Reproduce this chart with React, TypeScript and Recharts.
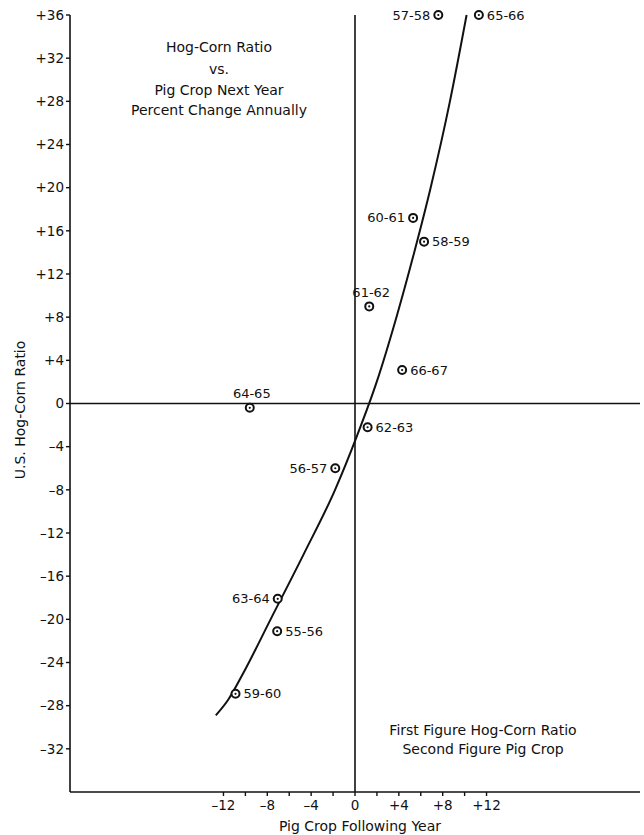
import { ScatterChart, Scatter, XAxis, YAxis, ReferenceLine } from "recharts";

// crop years, first figure hog-corn ratio, second figure pig crop
const cropYears = ["55-56", "56-57", "57-58", "58-59", "59-60", "60-61", "61-62", "62-63", "63-64", "64-65", "65-66", "66-67"];
const pigCrop = [-7.1, -1.8, 7.6, 6.3, -10.9, 5.3, 1.3, 1.15, -7.05, -9.6, 11.3, 4.3];
const hogCorn = [-21.1, -6.0, 36, 15.0, -26.9, 17.2, 9.0, -2.2, -18.1, -0.4, 36, 3.1];

// hand drawn trend curve
const curvePig = [-12.7, -11.6, -10.2, -7.7, -4.7, -1.82, 0.18, 1.98, 3.78, 5.4, 6.9, 8.66, 10.18];
const curveHog = [-28.9, -27.5, -25, -20, -14, -8, -3, 2, 8, 14, 20, 28, 36];

const xTicks = [-12, -10, -8, -6, -4, -2, 0, 2, 4, 6, 8, 10, 12];
const yTicks = [-32, -28, -24, -20, -16, -12, -8, -4, 0, 4, 8, 12, 16, 20, 24, 28, 32, 36];

const labelSide: Record<string, string> = {
  "57-58": "left",
  "60-61": "left",
  "56-57": "left",
  "63-64": "left",
  "61-62": "top",
  "64-65": "top",
};

const points = cropYears.map((label, i) => ({ label, x: pigCrop[i], y: hogCorn[i] }));
const curve = curvePig.map((x, i) => ({ x, y: curveHog[i] }));

const FONT = "'DejaVu Sans', sans-serif";
const INK = "#111";

const signed = (v: number) => (v > 0 ? `+${v}` : v < 0 ? `–${Math.abs(v)}` : "0");

const PointMark = (props: any) => {
  const { cx, cy, payload } = props;
  const side = labelSide[payload.label] ?? "right";
  let tx = cx + 8;
  let ty = cy;
  let anchor = "start";
  if (side === "left") {
    tx = cx - 8;
    anchor = "end";
  }
  if (side === "top") {
    tx = cx + 2;
    ty = cy - 14;
    anchor = "middle";
  }
  return (
    <g>
      <circle cx={cx} cy={cy} r={4} fill="#fff" stroke={INK} strokeWidth={2} />
      <circle cx={cx} cy={cy} r={1.1} fill={INK} />
      <text x={tx} y={ty} dy="0.35em" textAnchor={anchor} fontSize={13} fontFamily={FONT} fill={INK}>
        {payload.label}
      </text>
    </g>
  );
};

const XTick = (props: any) => {
  const { x, y, payload } = props;
  if (payload.value % 4 !== 0) return <g />;
  return (
    <text x={x} y={y} dy="0.9em" textAnchor="middle" fontSize={13.5} fontFamily={FONT} fill={INK}>
      {signed(payload.value)}
    </text>
  );
};

export default function App() {
  return (
    <div style={{ position: "absolute", left: 0, top: 0, width: 644, height: 835, background: "#fff" }}>
      <ScatterChart width={644} height={835} margin={{ top: 15, right: 4, bottom: 0, left: 0 }}>
        <XAxis
          type="number"
          dataKey="x"
          domain={[-26, 26]}
          ticks={xTicks}
          interval={0}
          height={43}
          axisLine={{ stroke: INK, strokeWidth: 1.6 }}
          tickLine={{ stroke: INK, strokeWidth: 1.4 }}
          tickSize={4}
          tickMargin={2}
          tick={<XTick />}
        />
        <YAxis
          type="number"
          dataKey="y"
          domain={[-36, 36]}
          ticks={yTicks}
          interval={0}
          width={70}
          axisLine={{ stroke: INK, strokeWidth: 1.6 }}
          tickLine={{ stroke: INK, strokeWidth: 1.4 }}
          tickSize={4}
          tickMargin={2}
          tickFormatter={signed}
          tick={{ fontSize: 13.5, fontFamily: FONT, fill: INK }}
        />
        <ReferenceLine x={0} stroke={INK} strokeWidth={1.6} />
        <ReferenceLine y={0} stroke={INK} strokeWidth={1.6} />
        <Scatter
          data={curve}
          line={{ stroke: INK, strokeWidth: 2 }}
          lineJointType="monotoneX"
          shape={() => <g />}
          isAnimationActive={false}
        />
        <Scatter data={points} shape={<PointMark />} isAnimationActive={false} />
      </ScatterChart>
      <svg width={644} height={835} style={{ position: "absolute", left: 0, top: 0, pointerEvents: "none" }}>
        <g fontFamily={FONT} fontSize={14} fill={INK} textAnchor="middle">
          <text x={219} y={52}>Hog-Corn Ratio</text>
          <text x={219} y={74}>vs.</text>
          <text x={219} y={95}>Pig Crop Next Year</text>
          <text x={219} y={115}>Percent Change Annually</text>
          <text x={360} y={831}>Pig Crop Following Year</text>
          <text transform="translate(25, 410) rotate(-90)">U.S. Hog-Corn Ratio</text>
          <text x={483} y={735}>First Figure Hog-Corn Ratio</text>
          <text x={483} y={754}>Second Figure Pig Crop</text>
        </g>
      </svg>
    </div>
  );
}
